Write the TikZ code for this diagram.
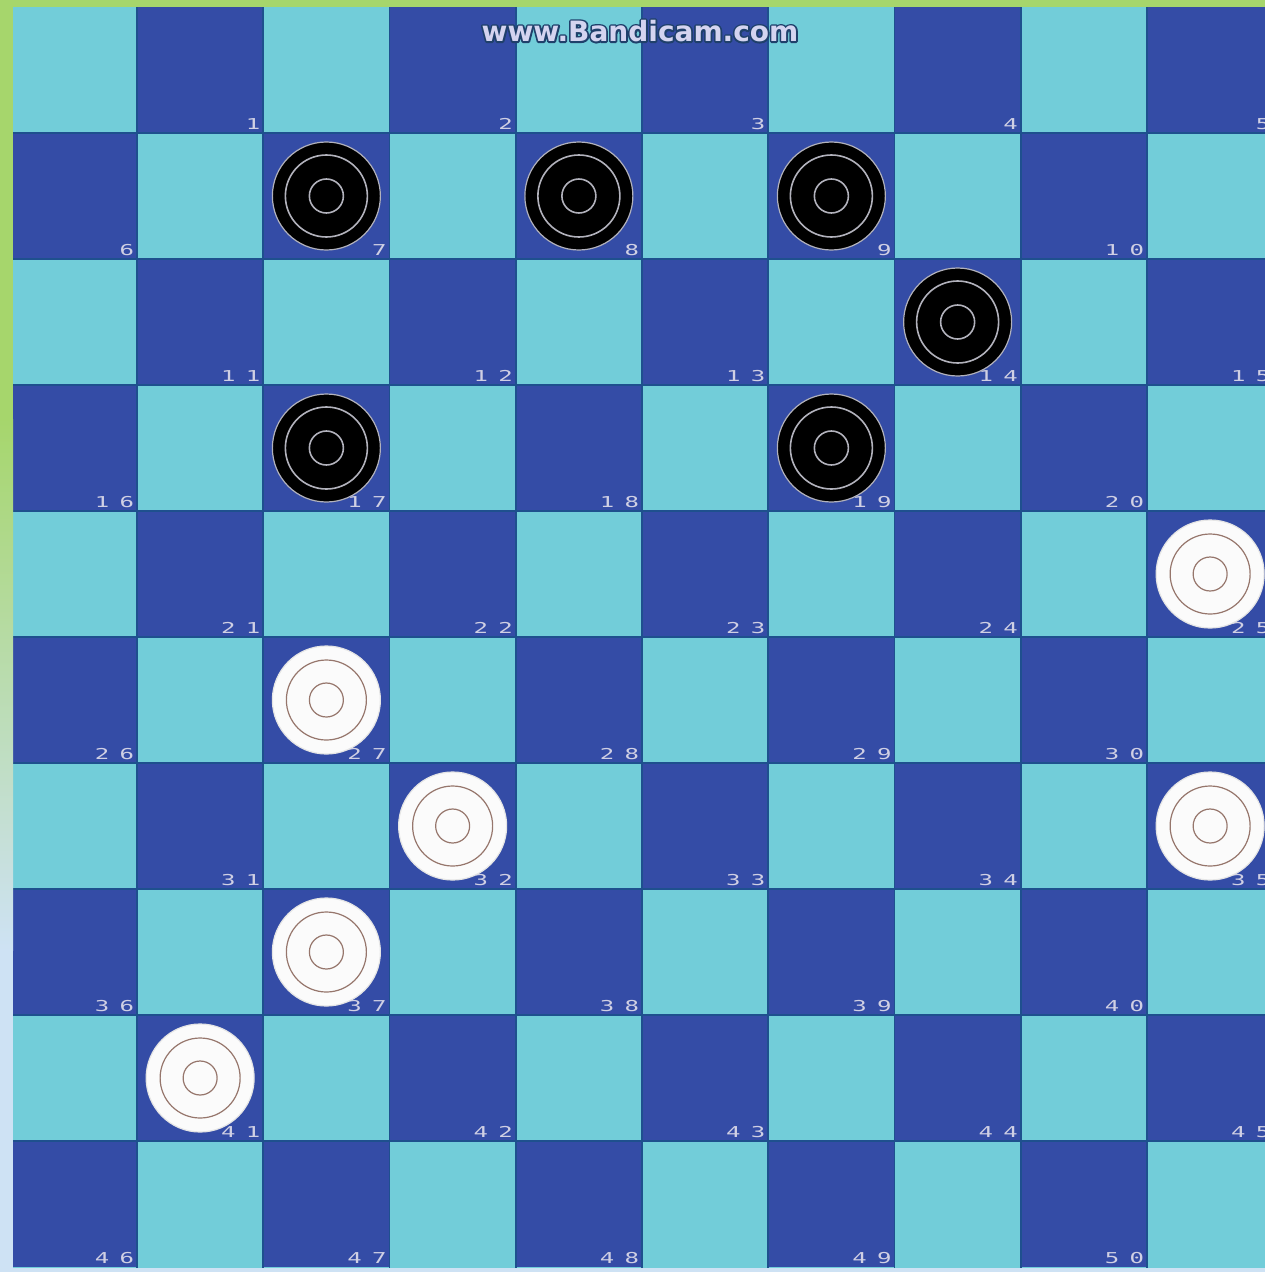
\documentclass[tikz,border=0pt]{standalone}
\usepackage{fontspec}
\newfontfamily\numfont{DejaVu Sans Mono}
\newfontfamily\wmfont{DejaVu Sans}
\definecolor{lightsq}{RGB}{114,205,217}
\definecolor{darksq}{RGB}{52,76,166}
\definecolor{gridc}{RGB}{30,80,142}
\definecolor{greenm}{RGB}{166,214,108}
\definecolor{bluem}{RGB}{206,226,244}
\definecolor{numc}{RGB}{208,208,228}
\definecolor{ringdark}{RGB}{178,178,188}
\definecolor{ringwhite}{RGB}{150,118,108}
\definecolor{wmfill}{RGB}{212,212,240}
\tikzset{
  numlabel/.style={anchor=south east, inner sep=0pt, text=numc, font=\numfont\fontsize{15}{15}\selectfont, xscale=1.6},
  blackman/.style={fill=black, draw=ringdark, line width=1.2pt},
  whiteman/.style={fill=white!97!gray, draw=white!80!gray, line width=1.2pt},
  blackring/.style={draw=ringdark, line width=1.6pt},
  whitering/.style={draw=ringwhite, line width=1.2pt},
  wmtext/.style={font=\wmfont\bfseries\fontsize{28}{28}\selectfont, inner sep=0pt}
}
\newcommand\wmword{www.Bandicam.com}
\begin{document}
\begin{tikzpicture}[x=1pt,y=-1pt]
\useasboundingbox (0,0) rectangle (1265,1272);
\fill[bluem] (0,0) rectangle (1265,1272);
% board
\begin{scope}
\clip (13,7) rectangle (1265,1268);
\fill[lightsq] (10.75,7) rectangle (1274,1268);
\foreach \r in {0,...,9}{
  \foreach \k in {0,...,4}{
    \pgfmathsetmacro\c{2*\k+1-mod(\r,2)}
    \pgfmathsetmacro\xl{10.75+126.25*\c}
    \pgfmathsetmacro\yt{7+126*\r}
    \fill[darksq] (\xl,\yt) rectangle ++(126.25,126);
  }
}
\foreach \i in {1,...,9}{
  \draw[gridc, line width=1.6pt] ({10.75+126.25*\i},7) -- ({10.75+126.25*\i},1268);
  \draw[gridc, line width=1.6pt] (10.75,{7+126*\i}) -- (1274,{7+126*\i});
}
% numbers
\foreach \n in {1,...,50}{
  \pgfmathtruncatemacro\r{(\n-1)/5}
  \pgfmathtruncatemacro\k{mod(\n-1,5)}
  \pgfmathtruncatemacro\c{2*\k+1-mod(\r,2)}
  \pgfmathsetmacro\xr{10.75+126.25*(\c+1)-2.5}
  \pgfmathsetmacro\yb{7+126*(\r+1)-3.5}
  \pgfmathtruncatemacro\tens{\n/10}
  \pgfmathtruncatemacro\units{\n-10*\tens}
  \ifnum\tens=0
    \node[numlabel] (num\n) at (\xr,\yb) {\units};
  \else
    \node[numlabel] (num\n) at (\xr,\yb) {\tens\kern6.5pt\units};
  \fi
}
% pieces
\foreach \n in {7,8,9,14,17,19}{
  \pgfmathtruncatemacro\r{(\n-1)/5}
  \pgfmathtruncatemacro\k{mod(\n-1,5)}
  \pgfmathtruncatemacro\c{2*\k+1-mod(\r,2)}
  \pgfmathsetmacro\cx{10.75+126.25*(\c+0.5)}
  \pgfmathsetmacro\cy{7+126*(\r+0.5)}
  \coordinate (p\n) at (\cx,\cy);
  \draw[blackman] (p\n) circle[radius=54];
  \draw[blackring] (p\n) circle[radius=41];
  \draw[blackring] (p\n) circle[radius=17];
}
\foreach \n in {25,27,32,35,37,41}{
  \pgfmathtruncatemacro\r{(\n-1)/5}
  \pgfmathtruncatemacro\k{mod(\n-1,5)}
  \pgfmathtruncatemacro\c{2*\k+1-mod(\r,2)}
  \pgfmathsetmacro\cx{10.75+126.25*(\c+0.5)}
  \pgfmathsetmacro\cy{7+126*(\r+0.5)}
  \coordinate (p\n) at (\cx,\cy);
  \draw[whiteman] (p\n) circle[radius=54];
  \draw[whitering] (p\n) circle[radius=40];
  \draw[whitering] (p\n) circle[radius=17];
}
\end{scope}
% margins
\fill[greenm] (0,0) rectangle (1265,7);
\fill[greenm] (0,0) rectangle (13,420);
\shade[top color=greenm, bottom color=bluem] (0,419) rectangle (13,950);
\fill[bluem] (0,949) rectangle (13,1272);
\fill[bluem] (0,1268) rectangle (1265,1272);
% watermark
\node[wmtext, text=wmfill] (wm) at (640,31)
  {\rlap{\special{pdf:literal direct 1 Tr 3.5 w 1 j 0.12 0.25 0.42 RG}\wmword\special{pdf:literal direct 0 Tr}}\wmword};
\end{tikzpicture}
\end{document}
